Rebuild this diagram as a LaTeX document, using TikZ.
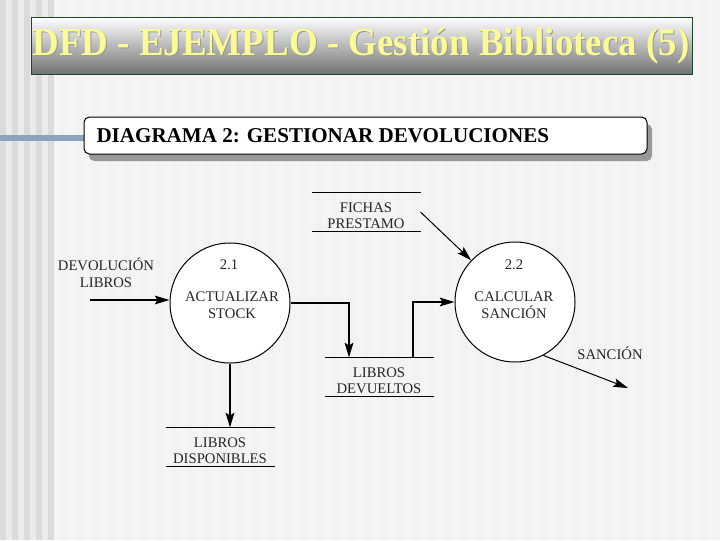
\documentclass[tikz,border=0pt]{standalone}
\usepackage{fontspec}
\setmainfont{Liberation Serif}
\usetikzlibrary{arrows.meta}

\definecolor{titleyellow}{RGB}{250,250,150}
\definecolor{titlegreen}{RGB}{30,70,40}
\definecolor{barblue}{RGB}{143,163,186}
\definecolor{paper}{RGB}{244,244,244}
\newcommand{\dfdfont}{\fontsize{11}{12.5}\selectfont}

\tikzset{every picture/.style={line width=0.75pt},
  proc/.style={circle,draw,fill=white,minimum size=90pt,inner sep=0pt},
  store/.style={minimum width=81pt,minimum height=28.5pt,inner sep=0pt,align=center,font=\dfdfont,text=black!85},
  lbl/.style={inner sep=0.75pt,align=center,font=\dfdfont,text=black!85},
  flow/.style={-{Stealth[length=11pt,width=6.5pt,inset=2pt]}},
  bigflow/.style={flow,line width=1.5pt}}

\begin{document}
\begin{tikzpicture}[x=0.75pt,y=0.75pt,yscale=-1,xscale=1]
\useasboundingbox (0,0) rectangle (720,540);

%Background with stripes
\fill[paper] (0,0) rectangle (720,540);
\foreach \sx in {60,76,...,712} \fill[black!5] (\sx,0) rectangle (\sx+7,540);
\fill[black!8] (0,0) rectangle (53,540);
\foreach \sx in {0,12,...,48} \fill[black!14] (\sx,0) rectangle (\sx+6,540);

%Title banner
\draw[titlegreen,top color=white,middle color=black!18,bottom color=black!55] (31,17) rectangle (692,74);
\node[text=black!40,inner sep=0pt] at (362,47) {\fontsize{29.5}{30}\selectfont\bfseries\scalebox{0.94}[1]{DFD - EJEMPLO - Gestión Biblioteca (5)}};
\node[text=titleyellow,inner sep=0pt] (title) at (361,46) {\fontsize{29.5}{30}\selectfont\bfseries\scalebox{0.94}[1]{DFD - EJEMPLO - Gestión Biblioteca (5)}};

%Diagram header with shadow
\draw[barblue,line width=4.5pt] (0,138) -- (84,138);
\fill[black!40,rounded corners=4] (89,124) rectangle (652,161);
\draw[fill=white,rounded corners=4] (84,117) rectangle (647,154);
\node[anchor=west,inner sep=0pt] (header) at (96,136) {\fontsize{15.8}{17}\selectfont\bfseries DIAGRAMA 2: GESTIONAR DEVOLUCIONES};

%Processes
\node[proc] (p21) at (230,303) {};
\node[proc] (p22) at (515,302) {};
\node[lbl] (n21) at (229,265) {2.1};
\node[lbl] (t21) at (232,305) {ACTUALIZAR\\STOCK};
\node[lbl] (n22) at (514,265) {2.2};
\node[lbl] (t22) at (514,305) {CALCULAR\\SANCIÓN};

%Data stores
\node[store] (fichas) at (366,212) {\rule{0pt}{13pt}FICHAS\\PRESTAMO};
\node[store] (devueltos) at (379,377) {\rule{0pt}{13pt}LIBROS\\DEVUELTOS};
\node[store] (disponibles) at (220,447) {\rule{0pt}{13pt}LIBROS\\DISPONIBLES};
\foreach \s in {fichas,devueltos,disponibles}
  \draw (\s.north west) -- (\s.north east) (\s.south west) -- (\s.south east);

% Text Node
\node[lbl] (devlbl) at (106,273) {DEVOLUCIÓN\\LIBROS};
% Text Node
\node[lbl] (sanlbl) at (610,353) {SANCIÓN};

%Flows
\coordinate (devin) at (90,300);
\coordinate (sanout) at (628,388);
\draw[flow,line width=1.2pt] (devin) -- (devin -| p21.west);
\draw[bigflow] (p21.east) -| ([xshift=-22.5pt]devueltos.north);
\draw[bigflow] ([xshift=25.5pt]devueltos.north) |- (p22.west);
\draw[flow] (fichas.east) -- (p22);
\draw[flow] (p22.298) -- (sanout);
\draw[bigflow] (p21.south) -- (p21.south |- disponibles.north);

\end{tikzpicture}
\end{document}
